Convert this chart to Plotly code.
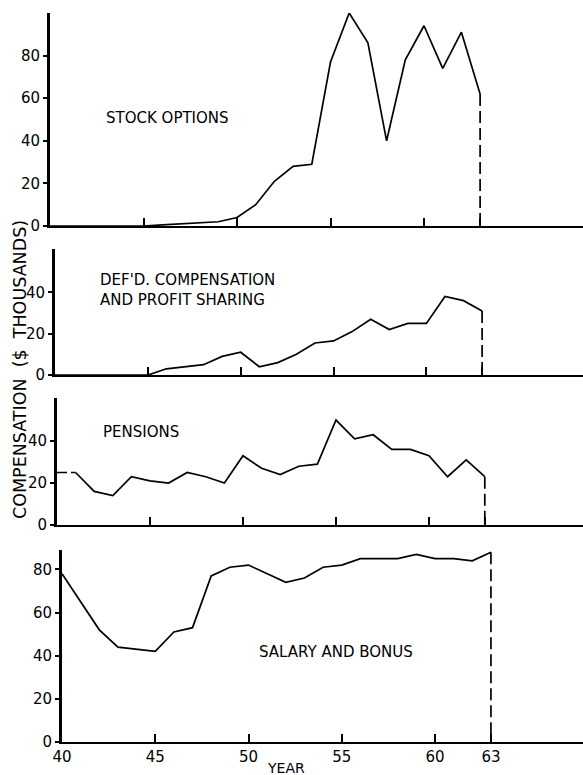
import plotly.graph_objects as go

years = list(range(40, 64))
stock_options = [0, 0, 0, 0, 0, 0, 0.5, 1, 1.5, 2, 4, 10, 21, 28, 29, 77, 100, 86, 40, 78, 94, 74, 91, 62]
deferred_comp = [0, 0, 0, 0, 0, 0, 3, 4, 5, 9, 11, 4, 6, 10, 15.5, 16.5, 21, 27, 22, 25, 25, 38, 36, 31]
pensions = [25, 25, 16, 14, 23, 21, 20, 25, 23, 20, 33, 27, 24, 28, 29, 50, 41, 43, 36, 36, 33, 23, 31, 23]
salary_bonus = [78, 65, 52, 44, 43, 42, 51, 53, 77, 81, 82, 78, 74, 76, 81, 82, 85, 85, 85, 87, 85, 85, 84, 88]

panel_labels = ["STOCK OPTIONS", "DEF'D. COMPENSATION<br>AND PROFIT SHARING", "PENSIONS", "SALARY AND BONUS"]
x_ticks_upper = [45, 50, 55, 60, 63]
x_ticks_bottom = [40, 45, 50, 55, 60, 63]
y_ticks = [[0, 20, 40, 60, 80], [0, 20, 40], [0, 20, 40], [0, 20, 40, 60, 80]]

W, H = 583, 775
FONT = "DejaVu Sans, Liberation Sans, Arial, sans-serif"

# panel geometry (pixels): y-axis x position, zero line y, top y, px per year
panels = [
    dict(x0=50, y0=226, y1=13, ppy=18.7, ymax=100),
    dict(x0=55, y0=375, y1=249, ppy=18.57, ymax=61),
    dict(x0=57, y0=525, y1=398, ppy=18.6, ymax=60.5),
    dict(x0=62, y0=742, y1=550, ppy=18.65, ymax=89),
]
series = [stock_options, deferred_comp, pensions, salary_bonus]

fig = go.Figure()
layout = dict(
    width=W, height=H,
    margin=dict(l=0, r=0, t=0, b=0),
    paper_bgcolor="white", plot_bgcolor="white",
    showlegend=False,
    font=dict(family=FONT, color="black", size=14),
)

line_style = dict(color="black", width=1.7)
for i, (p, vals) in enumerate(zip(panels, series)):
    n = i + 1
    xa = "x" if n == 1 else f"x{n}"
    ya = "y" if n == 1 else f"y{n}"
    xkey = "xaxis" if n == 1 else f"xaxis{n}"
    ykey = "yaxis" if n == 1 else f"yaxis{n}"
    xr = [40, 40 + (W - p["x0"]) / p["ppy"]]
    if i == 2:
        # dashed leading segment for pensions
        fig.add_trace(go.Scatter(x=years[:2], y=vals[:2], mode="lines",
                                 line=dict(color="black", width=1.7, dash="10px,4px"),
                                 xaxis=xa, yaxis=ya, hoverinfo="skip"))
        fig.add_trace(go.Scatter(x=years[1:], y=vals[1:], mode="lines", line=line_style,
                                 xaxis=xa, yaxis=ya))
    else:
        fig.add_trace(go.Scatter(x=years, y=vals, mode="lines", line=line_style,
                                 xaxis=xa, yaxis=ya))
    # dashed drop to zero at final year
    fig.add_trace(go.Scatter(x=[years[-1], years[-1]], y=[vals[-1], 0], mode="lines",
                             line=dict(color="black", width=1.7, dash="12px,5px"),
                             xaxis=xa, yaxis=ya, hoverinfo="skip"))
    bottom = (i == 3)
    layout[xkey] = dict(
        domain=[p["x0"] / W, 1.0],
        range=xr,
        anchor=ya,
        showline=True, linecolor="black", linewidth=2.2,
        showgrid=False, zeroline=False,
        ticks="inside", ticklen=8, tickwidth=2, tickcolor="black",
        tickvals=x_ticks_bottom if bottom else x_ticks_upper,
        showticklabels=bottom,
        tickfont=dict(size=15),
        automargin=False,
    )
    layout[ykey] = dict(
        domain=[1 - p["y0"] / H, 1 - p["y1"] / H],
        range=[0, p["ymax"]],
        anchor=xa,
        showline=True, linecolor="black", linewidth=3,
        showgrid=False, zeroline=False,
        ticks="outside", ticklen=4, tickwidth=1.5, tickcolor="black",
        tickvals=y_ticks[i],
        tickfont=dict(size=15),
        automargin=False,
    )

fig.update_layout(**layout)

# panel labels (positioned in pixels converted to paper fractions)
label_pos = [(104, 118), (98, 290), (101, 432), (257, 652)]
for txt, (px, py) in zip(panel_labels, label_pos):
    fig.add_annotation(text=txt, xref="paper", yref="paper",
                       x=px / W, y=1 - py / H, xanchor="left", yanchor="middle",
                       showarrow=False, align="left",
                       font=dict(size=15, family=FONT, color="black"))

fig.add_annotation(text="COMPENSATION  ($  THOUSANDS)", xref="paper", yref="paper",
                   x=20 / W, y=1 - 370 / H, textangle=-90, showarrow=False,
                   xanchor="center", yanchor="middle",
                   font=dict(size=17.5, family=FONT, color="black"))

fig.add_annotation(text="YEAR", xref="paper", yref="paper",
                   x=286 / W, y=1 - 768 / H, showarrow=False,
                   xanchor="center", yanchor="middle",
                   font=dict(size=14, family=FONT, color="black"))

fig.write_html("out.html", config={"displayModeBar": False},
               post_script="document.body.style.margin='0';document.body.style.overflow='hidden';")
